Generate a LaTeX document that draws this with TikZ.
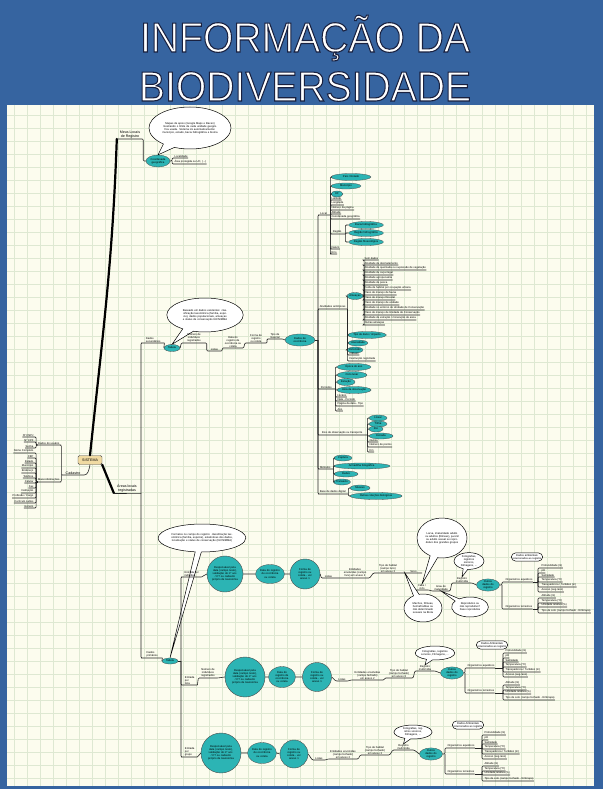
\documentclass[tikz,border=0pt]{standalone}
\usepackage{fontspec}
\setmainfont{Liberation Sans}
\usetikzlibrary{shapes.geometric,shapes.callouts,positioning}

\definecolor{azulfundo}{RGB}{54,100,160}
\definecolor{creme}{RGB}{252,252,238}
\definecolor{grade}{RGB}{222,232,210}
\definecolor{turquesa}{RGB}{44,180,180}
\definecolor{bege}{RGB}{240,218,162}

% contorno escuro nas letras do título
\newcommand\contornado[1]{\special{pdf:literal direct 2 Tr 1.1 w 0.1 0.13 0.25 RG}#1\special{pdf:literal direct 0 Tr}}

\tikzset{
  mini/.style={font=\fontsize{2.7}{3.1}\selectfont, inner sep=0.3pt, align=center},
  medio/.style={font=\fontsize{3.6}{4.2}\selectfont, inner sep=0.4pt, align=center},
  folha/.style={mini, anchor=south west, align=left},
  folhaesq/.style={mini, anchor=south east, align=right},
  rotulo/.style={mini, anchor=south},
  liga/.style={draw=black!85, line width=0.6pt, rounded corners=1pt},
  tronco/.style={draw=black, line width=2.2pt, line cap=round},
  turq/.style 2 args={mini, ellipse, draw=black!70, line width=0.3pt, fill=turquesa, minimum width=#1, minimum height=#2, inner sep=0pt},
  bola/.style={mini, circle, draw=black!70, line width=0.4pt, fill=turquesa, minimum size=#1, inner sep=0pt},
  balao/.style 2 args={mini, ellipse callout, draw=black, line width=0.5pt, fill=white, minimum width=#1, minimum height=#2, inner sep=0pt, callout pointer arc=18},
  caixa/.style={mini, rectangle, rounded corners=4pt, draw=black, line width=0.5pt, fill=white, inner sep=1.2pt},
  sistema/.style={medio, rectangle, rounded corners=1.5pt, draw=black!70, fill=bege, minimum width=24, minimum height=9},
  titulo/.style={font=\fontsize{42}{42}\selectfont, inner sep=0pt, anchor=base, text=white},
}

\begin{document}
\begin{tikzpicture}[x=1pt,y=-1pt]
  \useasboundingbox (0,0) rectangle (603,789);
  % fundo azul e área creme com grade
  \fill[azulfundo] (0,0) rectangle (603,789);
  \fill[creme] (7,105) rectangle (594,786);
  \foreach \gx in {14,27,...,594} \draw[grade, line width=0.4pt] (\gx,105) -- (\gx,786);
  \foreach \gy in {115,128,...,786} \draw[grade, line width=0.4pt] (7,\gy) -- (594,\gy);

  % título
  \node[titulo] (tit1) at (305,52) {\contornado{\scalebox{0.93}[1]{INFORMAÇÃO DA}}};
  \node[titulo] (tit2) at (305,101) {\contornado{\scalebox{0.93}[1]{BIODIVERSIDADE}}};

  % nó central
  \node[sistema] (sis) at (90,460) {SISTEMA};

  % ramo Cadastro
  \node[medio, anchor=south, minimum width=20] (cad) at (73,475) {Cadastro};
  \draw[liga] (sis.south) to[out=-100,in=0] (cad.south east) -- (cad.south west);
  \node[folhaesq, minimum width=22] (usu) at (60,445) {Dados do usuário};
  \node[folhaesq, minimum width=22] (mais) at (60,482) {Mais informações};
  \draw[liga] (cad.south west) -- ++(-1.5,0) coordinate (bcad) |- (usu.south east) -- (usu.south west);
  \draw[liga] (bcad) |- (mais.south east) -- (mais.south west);
  \foreach \yy/\texto [count=\i] in {437/Nº CNPJ, 442/Nº CPF, 448/Senha} {
    \node[folhaesq] (u\i) at (34,\yy) {\texto};
    \draw[liga] (usu.south west) -- ++(-1.5,0) |- (u\i.south east) -- (u\i.south west);
  }
  \foreach \texto [count=\i] in {Nome Completo, CEP, Estado, Município, Endereço, Telefone, Celular, Fax, Instituição, {Profissão / Cargo}, Currículo Lattes, Gênero} {
    \node[folhaesq] (m\i) at (34,448+5*\i) {\texto};
    \draw[liga] (mais.south west) -- ++(-1.5,0) |- (m\i.south east) -- (m\i.south west);
  }

  % ramo Meus Locais de Registro
  \node[medio, anchor=south, minimum width=26] (mlr) at (130,139) {Meus Locais\\de Registro};
  \draw[tronco] (sis.north) to[out=84,in=-92] (mlr.south west);
  \node[turq={24}{12}, text width=16pt] (geo) at (158,161) {Coordenada geográfica};
  \draw[liga] (mlr.south west) -- (mlr.south east) |- (geo.west);
  \node[folha] (loc1) at (174,158) {Localidade};
  \node[folha] (loc2) at (174,164) {Área protegida ou UC, (...)};
  \draw[liga] (geo.east) -- ++(2,0) coordinate (bgeo) |- (loc1.south west) -- (loc1.south east);
  \draw[liga] (bgeo) |- (loc2.south west) -- (loc2.south east);
  \node[balao={82}{42}, text width=58pt, callout absolute pointer={(geo.north)}] (bal1) at (190,128)
    {Mapas de apoio (Google Maps e Bacen) mostrando o limite de cada unidade geográfica usada. Sistema irá automaticamente: município, estado, bacia hidrográfica e bioma};

  % ramo Áreas locais registradas
  \node[medio, anchor=south, minimum width=26] (alr) at (127,493) {Áreas locais\\registradas};
  \draw[tronco] (sis.south east) -- (alr.south west);
  \coordinate (bar1) at (141,493);
  \draw[liga] (alr.south west) -- (alr.south east) -- (bar1);

  % dados secundários
  \node[folha, minimum width=22] (dsec) at (142,343) {Dados\\secundários};
  \draw[liga] (bar1) |- (dsec.south west) -- (dsec.south east);
  \node[turq={16}{7}] (tab1) at (172,348) {Tabela};
  \draw[liga] (dsec.south east) -- (tab1.west);
  \node[balao={76}{34}, text width=54pt, callout absolute pointer={(tab1.north)}] (bal2) at (205,315)
    {Baseado em dados existentes: classificação taxonômica (família, espécie), dados populacionais, ameaças e status de conservação IUCN/MMA};
  \node[rotulo, minimum width=25] (s1) at (194,343) {Número de\\indivíduos\\registrados};
  \node[rotulo, minimum width=15] (s2) at (214.5,351) {Listas};
  \node[rotulo, minimum width=21] (s3) at (233,348) {Data do\\registro de\\ocorrência ou\\coleta};
  \node[rotulo, minimum width=22] (s4) at (256,343) {Forma de\\registro\\ou coleta};
  \node[rotulo, minimum width=16] (s5) at (275,339) {Tipo de\\material};
  \node[turq={30}{12}, text width=20pt] (ocor) at (300,340) {Dados de ocorrência};
  \draw[liga] (tab1.east) -- (s1.south west) -- (s1.south east) -- (s2.south west) -- (s2.south east)
    -- (s3.south west) -- (s3.south east) -- (s4.south west) -- (s4.south east)
    -- (s5.south west) -- (s5.south east) -- (ocor.west);
  \coordinate (bar2) at (318,340);
  \draw[liga] (ocor.east) -- (bar2);

  % Local
  \node[folha, minimum width=9] (lcl) at (319,215) {Local};
  \draw[liga] (bar2) |- (lcl.south west) -- (lcl.south east) -- ++(2,0) coordinate (blcl);
  \node[turq={40}{7}] (l1) at (351,177) {País / Estado};
  \node[turq={30}{6}] (l2) at (346,186) {Município};
  \node[turq={12}{6}] (l3) at (337,194) {UF};
  \foreach \nn in {l1,l2,l3} \draw[liga] (blcl) |- (\nn.west);
  \foreach \yy/\texto [count=\i] in {200/Latitude, 205/Longitude, 210/Número da página, 214/Altitude, 219/Coordenada geográfica, 249/Datum, 254/Erro} {
    \node[folha] (lf\i) at (331,\yy) {\texto};
    \draw[liga] (blcl) |- (lf\i.south west) -- (lf\i.south east);
  }
  \node[folha, minimum width=12] (reg) at (331,234) {Região};
  \draw[liga] (blcl) |- (reg.south west) -- (reg.south east) -- ++(2,0) coordinate (breg);
  \foreach \yy/\texto [count=\i] in {225/Bacia hidrográfica, 233/Região hidrográfica, 242/Região fitoecológica} {
    \node[turq={35}{7}] (g\i) at (366,\yy) {\texto};
    \draw[liga] (breg) |- (g\i.west);
  }

  % Atividades antrópicas
  \node[folha, minimum width=27] (ativ) at (319,309) {Atividades antrópicas};
  \draw[liga] (bar2) |- (ativ.south west) -- (ativ.south east) -- ++(1,0) coordinate (bativ);
  \node[turq={14}{7}] (ame) at (355,296) {Ameaças};
  \draw[liga] (bativ) |- (ame.west);
  \draw[liga] (ame.east) -- ++(1,0) coordinate (bame);
  \foreach \texto [count=\i] in {Sem dados, Atividade de desmatamento, Atividade de queimada ou supressão de vegetação,
      Atividade de caça ilegal, Atividade agropecuária, Atividade de pesca, Perda de habitat por ocupação urbana,
      Plano de manejo de fauna, Plano de manejo florestal, Plano de manejo de unidade,
      Atividade no entorno de Unidade de Conservação, Plano de manejo de Unidade de Conservação,
      {Atividade de extração / mineração de areia}, Outras ameaças} {
    \node[folha] (am\i) at (364,255+5*\i) {\texto};
    \draw[liga] (bame) |- (am\i.south west) -- (am\i.south east);
  }
  \node[turq={37}{7}] (a1) at (367,335) {Tipo de dano / impacto};
  \node[turq={19}{6}] (a2) at (358,343) {Intensidade};
  \node[turq={15}{6}] (a3) at (355,350) {Extensão};
  \foreach \nn in {a1,a2,a3} \draw[liga] (bativ) |- (\nn.west);
  \node[folha] (a4) at (349,355) {Indícios};
  \node[folha] (a5) at (349,361) {Destruição registrada};
  \foreach \nn in {a4,a5} \draw[liga] (bativ) |- (\nn.south west) -- (\nn.south east);

  % Períodos
  \node[folha, minimum width=14] (per) at (319,389) {Períodos};
  \draw[liga] (bar2) |- (per.south west) -- (per.south east) -- ++(2,0) coordinate (bper);
  \foreach \xx/\yy/\ww/\texto [count=\i] in {354/367/34/Época do ano, 352/375/30/Ciclo lunar, 346/382/18/Estação, 354/390/34/Hora da observação} {
    \node[turq={\ww}{7}] (p\i) at (\xx,\yy) {\texto};
    \draw[liga] (bper) |- (p\i.west);
  }
  \foreach \yy/\texto [count=\i] in {397/Horário, 401/Data - Período, 406/Página da data - Tipo, 411/Ano} {
    \node[folha] (pf\i) at (337,\yy) {\texto};
    \draw[liga] (bper) |- (pf\i.south west) -- (pf\i.south east);
  }

  % Eixo de observação
  \node[folha, minimum width=46] (eixo) at (319,435) {Eixo de observação ou transporte};
  \draw[liga] (bar2) |- (eixo.south west) -- (eixo.south east) -- ++(2,0) coordinate (beixo);
  \foreach \xx/\yy/\ww/\texto [count=\i] in {378/418/18/Linear, 378/424/18/Trilha, 376/429/14/Rio, 381/436/24/Estrada} {
    \node[turq={\ww}{6}] (e\i) at (\xx,\yy) {\texto};
    \draw[liga] (beixo) |- (e\i.west);
  }
  \foreach \yy/\texto [count=\i] in {442/Outros, 447/Número de pontos, 452/Km} {
    \node[folha] (ef\i) at (369,\yy) {\texto};
    \draw[liga] (beixo) |- (ef\i.south west) -- (ef\i.south east);
  }

  % Métodos
  \node[folha, minimum width=12] (met) at (319,469) {Métodos};
  \draw[liga] (bar2) |- (met.south west) -- (met.south east) -- ++(2,0) coordinate (bmet);
  \foreach \xx/\yy/\ww/\texto [count=\i] in {343/458/18/Captura, 362/466/56/Armadilha fotográfica / visual, 346/474/24/Redes, 342/482/16/Transecto} {
    \node[turq={\ww}{6}] (mt\i) at (\xx,\yy) {\texto};
    \draw[liga] (bmet) |- (mt\i.west);
  }

  % Base de dados digital
  \node[folha, minimum width=27] (bdd) at (319,494) {Base de dados digital};
  \draw[liga] (bar2) |- (bdd.south west) -- (bdd.south east) -- ++(2,0) coordinate (bbdd);
  \node[turq={20}{6}] (bd1) at (360,488) {Museus};
  \node[turq={52}{7}] (bd2) at (376,496) {Outras coleções biológicas};
  \foreach \nn in {bd1,bd2} \draw[liga] (bbdd) |- (\nn.west);

  % dados primários
  \node[folha, minimum width=20] (dpri) at (142,658) {Dados\\primários};
  \draw[liga] (bar1) |- (dpri.south west) -- (dpri.south east);
  \node[turq={16}{6}] (tab2) at (170,661) {Tabela};
  \draw[liga] (dpri.south east) -- (tab2.west);
  \coordinate (bar3) at (181,661);
  \draw[liga] (tab2.east) -- (bar3);
  \node[balao={86}{28}, text width=62pt, callout pointer arc=8, callout absolute pointer={(tab2.north)}] (bal3) at (202,538)
    {Formatos no campo do registro: classificação taxonômica (família, espécie), estatísticas dos dados, localização e status de conservação (IUCN/MMA)};

  % entrada por indivíduo
  \node[folha, minimum width=19] (ind) at (182,577) {Entrada por\\indivíduo};
  \draw[liga] (bar3) |- (ind.south west) -- (ind.south east);
  \node[bola=36, text width=27pt] (c11) at (225,574) {Responsável pela data (campo texto), validação do nº acc. / CT ou cadastro próprio de taxonomia};
  \node[turq={29}{19}, text width=20pt] (c12) at (270,574) {Data do registro de ocorrência ou coleta};
  \node[bola=30, text width=20pt] (c13) at (305,574) {Forma de registro ou coleta - ver anexo 1};
  \node[rotulo, minimum width=14] (lst1) at (328.5,578) {Listas};
  \node[rotulo, minimum width=29] (ent1) at (355,578) {Entidades\\envolvidas (campo\\livre) em anexo 2};
  \node[rotulo, minimum width=29] (hab1) at (388,573) {Tipo de habitat\\(campo livre)\\em anexo 3};
  \node[rotulo, minimum width=17] (sexo) at (413.5,573) {Sexo};
  \node[rotulo, minimum width=14] (fase) at (422,590) {Fase /\\ciclo};
  \node[rotulo, minimum width=18] (grau) at (441,591) {Grau de\\maturidade};
  \node[rotulo, minimum width=20] (reg1) at (462,583) {Registro\\multimídia};
  \node[turq={23}{10}, text width=16pt] (c14) at (488,585) {Outros dados do registro};
  \draw[liga] (ind.south east) -- (c11.west) (c11.east) -- (c12.west) (c12.east) -- (c13.west);
  \draw[liga] (c13.east) -- (lst1.south west) -- (lst1.south east) -- (ent1.south west) -- (ent1.south east)
    -- (hab1.south west) -- (hab1.south east) -- (sexo.south west) -- (sexo.south east);
  \draw[liga] (sexo.south west) -- (fase.south west) -- (fase.south east) -- (grau.south west) -- (grau.south east)
    -- (reg1.south west) -- (reg1.south east) -- (c14.west);
  \node[balao={50}{40}, text width=34pt, callout absolute pointer={(fase.north)}] (balA) at (442,538)
    {Larva, imaturidade adulto ou adultos (fêmeas), juvenil ou adulto sexual se reprodutivo dos grandes grupos};
  \node[balao={38}{28}, text width=26pt, callout absolute pointer={(sexo.south west)}] (balB) at (423,608)
    {Machos, fêmeas, hermafroditas ou não determinado sexuais na Biota};
  \node[balao={36}{20}, text width=26pt, callout absolute pointer={(grau.south)}] (balC) at (470,607)
    {Reprodutivo ou não reprodutivo? Fase reprodutiva};
  \node[balao={30}{16}, text width=21pt, callout absolute pointer={(reg1.north)}] (balD) at (469,561)
    {Fotografias, registros sonoros, Filmagens, ...};
  \node[caixa] (cx1) at (527,557) {Dados ambientais\\relacionados ao registro};
  \coordinate (b14) at (502,585);
  \node[folha] (aq1) at (505,582) {Organismos aquáticos};
  \node[folha] (ter1) at (505,609) {Organismos terrestres};
  \draw[liga] (c14.east) -- (b14) |- (aq1.south west) -- (aq1.south east);
  \draw[liga] (b14) |- (ter1.south west) -- (ter1.south east);
  \coordinate (baq1) at (538,582);
  \coordinate (bte1) at (538,609);
  \draw[liga] (aq1.south east) -- (baq1) (ter1.south east) -- (bte1);

  % entrada por lista
  \node[folha, minimum width=15] (lis) at (182,685) {Entrada\\por\\lista};
  \draw[liga] (bar3) |- (lis.south west) -- (lis.south east);
  \node[rotulo, minimum width=19] (nir) at (208,678) {Número de\\indivíduos\\registrados};
  \node[bola=40, text width=30pt] (c21) at (245,677) {Responsável pela data (campo texto), validação do nº acc. / CT ou cadastro próprio de taxonomia};
  \node[turq={27}{21}, text width=19pt] (c22) at (282,677) {Data do registro de ocorrência ou coleta};
  \node[bola=29, text width=20pt] (c23) at (317,677) {Forma de registro ou coleta - ver anexo 1};
  \node[rotulo, minimum width=12] (lst2) at (342,681) {Listas};
  \node[rotulo, minimum width=33] (ent2) at (367.5,680) {Entidades envolvidas\\(campo fechado)\\em anexo 2};
  \node[rotulo, minimum width=28] (hab2) at (399,678) {Tipo de habitat\\(campo fechado)\\em anexo 3};
  \node[rotulo, minimum width=20] (reg2) at (425,671) {Registro\\multimídia};
  \node[turq={23}{11}, text width=16pt] (c24) at (452,673) {Outros dados do registro};
  \draw[liga] (lis.south east) -- (nir.south west) -- (nir.south east) -- (c21.west) (c21.east) -- (c22.west) (c22.east) -- (c23.west);
  \draw[liga] (c23.east) -- (lst2.south west) -- (lst2.south east) -- (ent2.south west) -- (ent2.south east)
    -- (hab2.south west) -- (hab2.south east) -- (reg2.south west) -- (reg2.south east) -- (c24.west);
  \node[balao={36}{14}, text width=28pt, callout absolute pointer={(reg2.north)}] (balE) at (435,653)
    {Fotografias, registros sonoros, Filmagens, ...};
  \node[caixa] (cx2) at (492,645) {Dados Ambientais\\relacionados ao registro};
  \coordinate (b24) at (465,673);
  \node[folha] (aq2) at (467,668) {Organismos aquáticos};
  \node[folha] (ter2) at (467,693) {Organismos terrestres};
  \draw[liga] (c24.east) -- (b24) |- (aq2.south west) -- (aq2.south east);
  \draw[liga] (b24) |- (ter2.south west) -- (ter2.south east);
  \coordinate (baq2) at (503,668);
  \coordinate (bte2) at (503,693);
  \draw[liga] (aq2.south east) -- (baq2) (ter2.south east) -- (bte2);

  % entrada por grupo
  \node[folha, minimum width=15] (gru) at (182,757) {Entrada\\por\\grupo};
  \draw[liga] (bar3) |- (gru.south west) -- (gru.south east);
  \node[bola=40, text width=30pt] (c31) at (221,753) {Responsável pela data (campo texto), validação do nº acc. / CT ou cadastro próprio de taxonomia};
  \node[turq={29}{21}, text width=20pt] (c32) at (262,753) {Data do registro de ocorrência ou coleta};
  \node[bola=28, text width=19pt] (c33) at (294,754) {Forma de registro ou coleta - ver anexo 1};
  \node[rotulo, minimum width=13] (lst3) at (319,760) {Listas};
  \node[rotulo, minimum width=30] (ent3) at (343,759) {Entidades envolvidas\\(campo fechado)\\em anexo 2};
  \node[rotulo, minimum width=29] (hab3) at (375,755) {Tipo de habitat\\(campo fechado)\\em anexo 3};
  \node[rotulo, minimum width=21] (reg3) at (403.5,750) {Registro\\multimídia};
  \node[turq={23}{12}, text width=16pt] (c34) at (431,754) {Outros dados do registro};
  \draw[liga] (gru.south east) -- (c31.west) (c31.east) -- (c32.west) (c32.east) -- (c33.west);
  \draw[liga] (c33.east) -- (lst3.south west) -- (lst3.south east) -- (ent3.south west) -- (ent3.south east)
    -- (hab3.south west) -- (hab3.south east) -- (reg3.south west) -- (reg3.south east) -- (c34.west);
  \node[balao={35}{14}, text width=27pt, callout absolute pointer={(reg3.north)}] (balF) at (413,732)
    {Fotografias, registros sonoros, Filmagens, ...};
  \node[caixa] (cx3) at (468,725) {Dados Ambientais\\relacionados ao registro};
  \coordinate (b34) at (445,754);
  \node[folha] (aq3) at (447,748) {Organismos aquáticos};
  \node[folha] (ter3) at (447,774) {Organismos terrestres};
  \draw[liga] (c34.east) -- (b34) |- (aq3.south west) -- (aq3.south east);
  \draw[liga] (b34) |- (ter3.south west) -- (ter3.south east);
  \coordinate (baq3) at (482,748);
  \coordinate (bte3) at (482,774);
  \draw[liga] (aq3.south east) -- (baq3) (ter3.south east) -- (bte3);

  % folhas dos dados ambientais (os três ramos)
  \foreach \r/\xa/\ya/\yt in {1/541/568/598, 2/505/653/685, 3/484/735/766} {
    \foreach \dy/\texto [count=\i] in {0/Profundidade (m), 5/pH, 9/Salinidade, 14/Temperatura (ºC), 19/{Transparência / Turbidez (m)}, 24/{Acesso (seg./ano)}} {
      \node[folha] (aq\r-\i) at (\xa,\ya+\dy) {\texto};
      \draw[liga] (baq\r) |- (aq\r-\i.south west) -- (aq\r-\i.south east);
    }
    \foreach \dy/\texto [count=\i] in {0/Altitude (m), 5/Temperatura (ºC), 9/Umidade relativa (\%), 15/Tipo de solo (campo fechado - Embrapa)} {
      \node[folha] (te\r-\i) at (\xa,\yt+\dy) {\texto};
      \draw[liga] (bte\r) |- (te\r-\i.south west) -- (te\r-\i.south east);
    }
  }
\end{tikzpicture}
\end{document}
